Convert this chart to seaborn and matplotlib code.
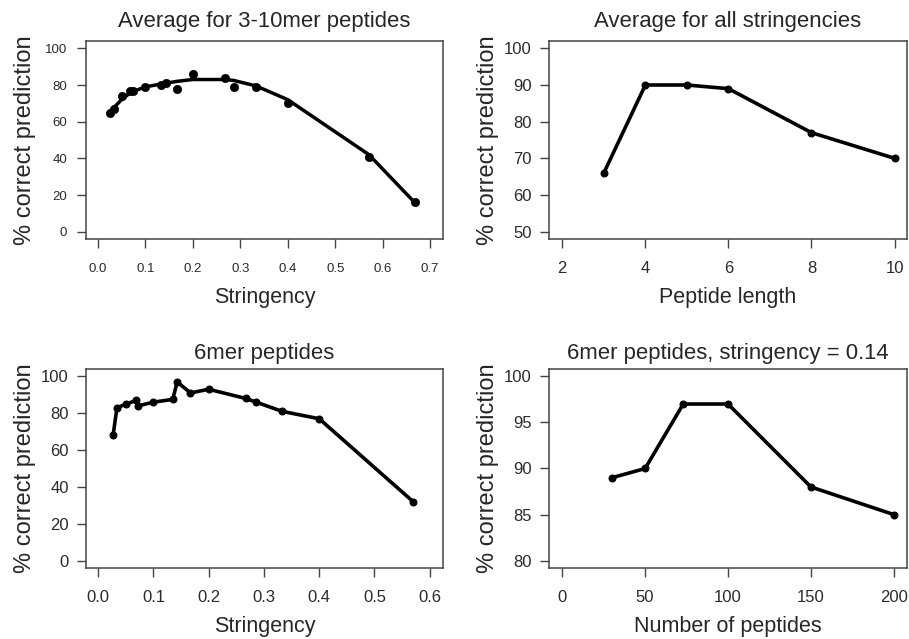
import seaborn as sns
import pandas as pd
import matplotlib.pyplot as plt

# top left: average for 3-10mer peptides
strin_avg = [0.025, 0.033, 0.05, 0.067, 0.075, 0.1, 0.133, 0.143, 0.167, 0.2,
             0.267, 0.286, 0.333, 0.4, 0.571, 0.667]
pct_avg = [65, 67, 74, 77, 77, 79, 80, 81, 78, 86, 84, 79, 79, 70, 41, 16]
fit_avg = [65, 67.5, 72, 75.5, 76.5, 79, 80.5, 81, 82, 83, 83, 82.5, 79.5, 72, 42, 16]

# top right: average for all stringencies
pep_len = [3, 4, 5, 6, 8, 10]
pct_len = [66, 90, 90, 89, 77, 70]

# bottom left: 6mer peptides
strin_6 = [0.027, 0.034, 0.051, 0.069, 0.072, 0.1, 0.135, 0.143, 0.167, 0.2,
           0.267, 0.286, 0.333, 0.4, 0.57]
pct_6 = [68, 83, 85, 87, 84, 86, 87.5, 97, 91, 93, 88, 86, 81, 77, 32]

# bottom right: 6mer peptides, stringency 0.14
n_pep = [30, 50, 73, 100, 150, 200]
pct_n = [89, 90, 97, 97, 88, 85]

sns.set_theme(style="ticks")
plt.rcParams['font.family'] = ['Liberation Sans', 'DejaVu Sans']
plt.rcParams['axes.edgecolor'] = '#444444'
plt.rcParams['xtick.color'] = '#444444'
plt.rcParams['ytick.color'] = '#444444'
plt.rcParams['xtick.labelcolor'] = '#2a2a2a'
plt.rcParams['ytick.labelcolor'] = '#2a2a2a'

fig = plt.figure(figsize=(9.09, 6.39), dpi=100)
W, H = 909, 639


def make_ax(x0, y0, x1, y1):
    return fig.add_axes([x0 / W, 1 - y1 / H, (x1 - x0) / W, (y1 - y0) / H])


ax1 = make_ax(86, 41, 443, 239)
ax2 = make_ax(549, 41, 907, 239)
ax3 = make_ax(86, 369, 443, 568)
ax4 = make_ax(549, 369, 907, 568)

ylab = "% correct prediction"

# panel 1
d1 = pd.DataFrame({"s": strin_avg, "p": pct_avg, "f": fit_avg})
sns.lineplot(data=d1, x="s", y="f", ax=ax1, color="black", lw=2.5)
sns.scatterplot(data=d1, x="s", y="p", ax=ax1, color="black", s=36, edgecolor="black", zorder=3)
ax1.set_xlim(-0.025, 0.727)
ax1.set_ylim(-4, 104)
ax1.set_xticks([0.0, 0.1, 0.2, 0.3, 0.4, 0.5, 0.6, 0.7])
ax1.set_xticklabels(["0.0", "0.1", "0.2", "0.3", "0.4", "0.5", "0.6", "0.7"])
ax1.set_yticks(range(0, 101, 20))
ax1.set_title("Average for 3-10mer peptides", fontsize=15.9, pad=10)
ax1.tick_params(labelsize=9.5, length=6.5, width=1)
ax1.tick_params(axis="x", pad=11)
ax1.tick_params(axis="y", pad=7)

# panel 2
d2 = pd.DataFrame({"l": pep_len, "p": pct_len})
sns.lineplot(data=d2, x="l", y="p", ax=ax2, color="black", lw=2.6, marker="o", ms=5, mec="black")
ax2.set_xlim(1.68, 10.3)
ax2.set_ylim(48, 102)
ax2.set_xticks([2, 4, 6, 8, 10])
ax2.set_yticks(range(50, 101, 10))
ax2.set_title("Average for all stringencies", fontsize=15.9, pad=10)

# panel 3
d3 = pd.DataFrame({"s": strin_6, "p": pct_6})
sns.lineplot(data=d3, x="s", y="p", ax=ax3, color="black", lw=2.6, marker="o", ms=5,
             mec="black", sort=False)
ax3.set_xlim(-0.022, 0.624)
ax3.set_ylim(-4, 104)
ax3.set_xticks([0.0, 0.1, 0.2, 0.3, 0.4, 0.5, 0.6])
ax3.set_xticklabels(["0.0", "0.1", "0.2", "0.3", "0.4", "0.5", "0.6"])
ax3.set_yticks(range(0, 101, 20))
ax3.set_title("6mer peptides", fontsize=15.9, pad=7)

# panel 4
d4 = pd.DataFrame({"n": n_pep, "p": pct_n})
sns.lineplot(data=d4, x="n", y="p", ax=ax4, color="black", lw=2.6, marker="o", ms=5, mec="black")
ax4.set_xlim(-8, 208)
ax4.set_ylim(79.2, 100.8)
ax4.set_xticks([0, 50, 100, 150, 200])
ax4.set_yticks(range(80, 101, 5))
ax4.set_title("6mer peptides, stringency = 0.14", fontsize=15.9, pad=7)

for ax in (ax2, ax3, ax4):
    ax.tick_params(labelsize=12, length=6.5, width=1)
    ax.tick_params(axis="x", pad=9)
    ax.tick_params(axis="y", pad=6)

xlabels = ["Stringency", "Peptide length", "Stringency", "Number of peptides"]
for ax, xl in zip((ax1, ax2, ax3, ax4), xlabels):
    ax.set_xlabel(xl, fontsize=15.5)
    ax.set_ylabel(ylab, fontsize=17)
    ax.yaxis.set_label_coords(-0.14, 0.5)
    ax.xaxis.set_label_coords(0.5, -0.24)
    for sp in ax.spines.values():
        sp.set_visible(True)
        sp.set_linewidth(1.1)

fig.savefig("out.png", dpi=100)
